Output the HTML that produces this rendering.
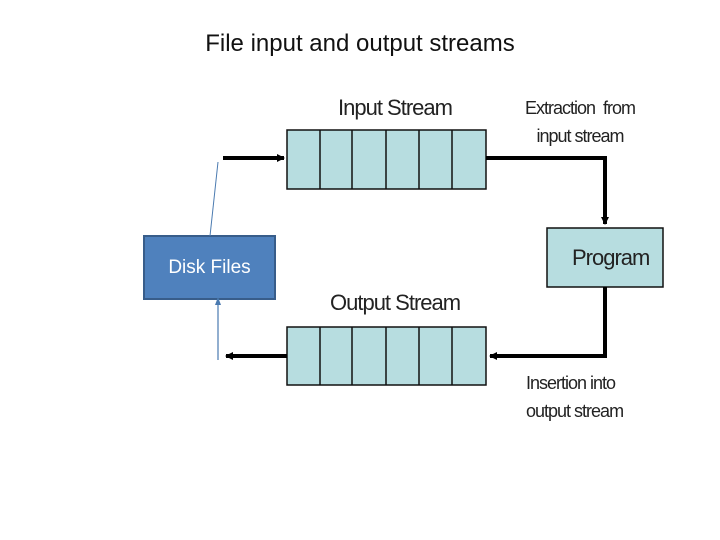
<!DOCTYPE html>
<html><head><style>
body{margin:0;width:720px;height:540px;background:#fff;overflow:hidden;position:relative;font-family:"Liberation Sans",sans-serif}
.t{position:absolute;white-space:nowrap}
.n{font-family:"Liberation Sans Narrow","Liberation Sans",sans-serif;letter-spacing:-1px;color:#222}
</style></head><body>
<div class="t" style="left:0;width:720px;text-align:center;top:30px;font-size:24px;color:#111;padding-left:0">File input and output streams</div>
<svg width="720" height="540" style="position:absolute;left:0;top:0">
<defs><marker id="a" markerWidth="8" markerHeight="8" refX="7" refY="4" orient="auto" markerUnits="userSpaceOnUse"><path d="M0,0L8,4L0,8z" fill="#000"/></marker>
<marker id="b" markerWidth="8" markerHeight="8" refX="7" refY="4" orient="auto" markerUnits="userSpaceOnUse"><path d="M0,1L8,4L0,7z" fill="#4a7ab0"/></marker></defs>
<g fill="#b7dde0" stroke="#111" stroke-width="1.5">
<rect x="287" y="130" width="199" height="59"/>
<rect x="287" y="327" width="199" height="58"/>
<rect x="547" y="228" width="116" height="59"/>
</g>
<g stroke="#111" stroke-width="1.5">
<path d="M320,130V189M352,130V189M386,130V189M419,130V189M452,130V189"/>
<path d="M320,327V385M352,327V385M386,327V385M419,327V385M452,327V385"/>
</g>
<g stroke="#000" stroke-width="4" fill="none">
<path d="M223,158H284" marker-end="url(#a)"/>
<path d="M486,158H605V224" marker-end="url(#a)"/>
<path d="M605,287V356H490" marker-end="url(#a)"/>
<path d="M287,356H226" marker-end="url(#a)"/>
</g>
<rect x="144" y="236" width="131" height="63" fill="#4f81bd" stroke="#385d8a" stroke-width="2"/>
<path d="M210,236L218,162" stroke="#4a7ab0" stroke-width="1"/>
<path d="M218,360V298" stroke="#4a7ab0" stroke-width="1.2" marker-end="url(#b)"/>
</svg>
<div class="t" style="left:144px;width:131px;text-align:center;top:257px;font-size:19px;color:#fff">Disk Files</div>
<div class="t n" style="left:338px;top:95px;font-size:22px">Input Stream</div>
<div class="t n" style="left:330px;top:290px;font-size:22px">Output Stream</div>
<div class="t n" style="left:572px;top:245px;font-size:22px">Program</div>
<div class="t n" style="left:525px;top:94px;font-size:18px;line-height:28px;text-align:center">Extraction&nbsp; from<br>input stream</div>
<div class="t n" style="left:526px;top:369px;font-size:18px;line-height:28px">Insertion into<br>output stream</div>
</body></html>
